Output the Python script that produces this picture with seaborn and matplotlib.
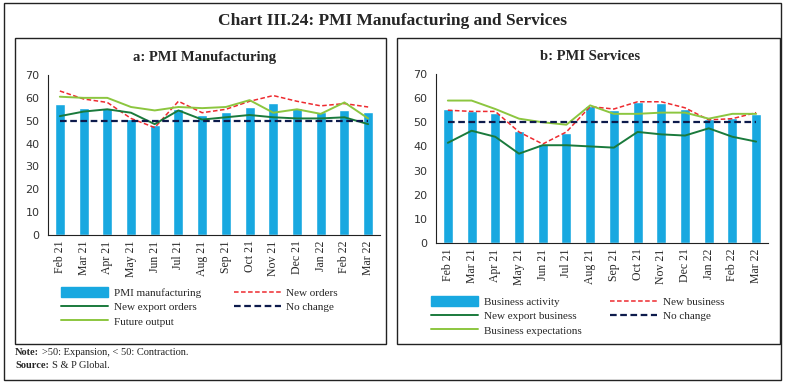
import numpy as np
import pandas as pd
import matplotlib
matplotlib.use("Agg")
import matplotlib.pyplot as plt
from matplotlib.patches import Rectangle
from matplotlib.lines import Line2D
import seaborn as sns

months = ["Feb 21", "Mar 21", "Apr 21", "May 21", "Jun 21", "Jul 21", "Aug 21",
          "Sep 21", "Oct 21", "Nov 21", "Dec 21", "Jan 22", "Feb 22", "Mar 22"]

# Panel a: PMI Manufacturing
pmi_manufacturing = [57.5, 55.4, 55.5, 50.8, 48.1, 55.3, 52.3, 53.7, 55.9, 57.6, 55.5, 54.0, 54.9, 54.0]
new_orders = [63.0, 59.5, 58.0, 51.0, 47.0, 58.5, 53.5, 55.0, 58.5, 61.0, 58.5, 56.5, 57.5, 56.0]
new_export_orders = [52.0, 54.0, 55.0, 53.5, 48.5, 54.5, 50.5, 51.5, 52.5, 51.5, 51.0, 51.0, 51.5, 48.5]
future_output = [60.5, 60.0, 60.0, 56.0, 54.5, 56.0, 55.5, 56.0, 59.0, 53.5, 55.0, 53.0, 58.0, 51.0]

# Panel b: PMI Services
business_activity = [55.3, 54.6, 54.0, 46.4, 41.2, 45.4, 56.7, 55.2, 58.4, 58.1, 55.5, 51.5, 51.8, 53.6]
new_business = [55.0, 54.5, 54.5, 46.0, 41.0, 46.0, 56.5, 55.5, 58.5, 58.5, 56.0, 51.0, 51.5, 54.0]
new_export_business = [41.5, 46.5, 44.0, 37.0, 40.5, 40.5, 40.0, 39.5, 46.0, 45.0, 44.5, 47.5, 44.0, 42.0]
business_expectations = [59.0, 59.0, 55.5, 51.5, 50.0, 49.0, 57.0, 53.5, 53.5, 54.0, 54.0, 51.5, 53.5, 53.5]

no_change = [50] * len(months)
y_ticks = [0, 10, 20, 30, 40, 50, 60, 70]

BAR = "#18A8E0"
RED = "#EE2A2F"
DGREEN = "#1A7A3C"
LGREEN = "#8CC63F"
NAVY = "#0D1B4C"

sns.set_style("white")
plt.rcParams["font.family"] = ["Liberation Serif", "DejaVu Serif"]

fig = plt.figure(figsize=(7.85, 3.86), dpi=100)
W, H = 785, 386


def box(x0, y0, x1, y1, lw=1.0):
    fig.patches.append(Rectangle((x0 / W, 1 - y1 / H), (x1 - x0) / W, (y1 - y0) / H,
                                 transform=fig.transFigure, fill=False,
                                 edgecolor="#222222", linewidth=lw))


box(4, 3, 781, 380)
box(15, 38, 386, 344)
box(397, 38, 780, 344)

fig.text(0.5, 1 - 21 / H, "Chart III.24: PMI Manufacturing and Services",
         ha="center", va="center", fontsize=12.5, fontweight="bold")
fig.text(205 / W, 1 - 57 / H, "a: PMI Manufacturing", ha="center", va="center",
         fontsize=10.5, fontweight="bold")
fig.text(590 / W, 1 - 57 / H, "b: PMI Services", ha="center", va="center",
         fontsize=10.5, fontweight="bold")

note_lbl = fig.text(15 / W, 1 - 355 / H, "Note:", ha="left", va="baseline",
                    fontsize=7.5, fontweight="bold")
src_lbl = fig.text(15 / W, 1 - 368 / H, "Source:", ha="left", va="baseline",
                   fontsize=7.5, fontweight="bold")
fig.canvas.draw()
r = fig.canvas.get_renderer()
note_bb = note_lbl.get_window_extent(r)
src_bb = src_lbl.get_window_extent(r)
fig.text((note_bb.x1 + 3) / W, 1 - 355 / H, ">50: Expansion, < 50: Contraction.",
         ha="left", va="baseline", fontsize=7.5, color="#222222")
fig.text((src_bb.x1 + 3) / W, 1 - 368 / H, "S & P Global.",
         ha="left", va="baseline", fontsize=7.5, color="#222222")


def panel(rect, bars, bar_label, lines, legend_order, anchor, colspace):
    ax = fig.add_axes(rect)
    df = pd.DataFrame({"month": months, "value": bars})
    sns.barplot(data=df, x="month", y="value", color=BAR, width=0.42,
                saturation=1, ax=ax, label=bar_label)
    idx = np.arange(len(months))
    handles = {bar_label: Rectangle((0, 0), 1, 1, color=BAR)}
    for name, vals, color, ls, lw in lines:
        sns.lineplot(x=idx, y=vals, color=color, linestyle=ls, linewidth=lw, ax=ax)
        handles[name] = Line2D([0], [0], color=color, linestyle=ls, linewidth=lw)
    ax.set_xlim(-0.47, len(months) - 0.5)
    ax.set_ylim(0, 70)
    ax.set_yticks(y_ticks)
    ax.set_xlabel("")
    ax.set_ylabel("")
    ax.set_xticks(idx)
    ax.set_xticklabels(months, rotation=90, fontsize=8.5)
    ax.set_xticks(np.arange(len(months) + 1) - 0.5, minor=True)
    ax.tick_params(axis="x", which="major", length=0, pad=4)
    ax.tick_params(axis="x", which="minor", length=4, width=0.8, color="#222222", direction="out")
    ax.tick_params(axis="y", length=3, width=0.8, color="#222222", direction="out",
                   labelsize=8.5, pad=3)
    for lab in ax.get_yticklabels():
        lab.set_fontfamily(["DejaVu Sans"])
        lab.set_color("#333333")
        lab.set_fontsize(8)
    sns.despine(ax=ax)
    for s in ["left", "bottom"]:
        ax.spines[s].set_color("#222222")
        ax.spines[s].set_linewidth(0.8)
    if ax.legend_ is not None:
        ax.legend_.remove()
    hs = [handles[n] for n in legend_order]
    ax.legend(hs, legend_order, ncol=2, loc="upper left", frameon=False,
              bbox_to_anchor=anchor, bbox_transform=fig.transFigure,
              fontsize=8, handlelength=4.2, handleheight=0.9, labelspacing=0.35,
              columnspacing=colspace, handletextpad=0.5, borderaxespad=0)
    return ax


panel([48 / W, 1 - 235 / H, 332 / W, 160 / H], pmi_manufacturing, "PMI manufacturing",
      [("New orders", new_orders, RED, (0, (3, 1.6)), 1.1),
       ("New export orders", new_export_orders, DGREEN, "-", 1.4),
       ("Future output", future_output, LGREEN, "-", 1.4),
       ("No change", no_change, NAVY, (0, (3, 1.6)), 1.6)],
      ["PMI manufacturing", "New export orders", "Future output", "New orders", "No change"],
      (57 / W, 1 - 283 / H), 3.0)

panel([436 / W, 1 - 243 / H, 332 / W, 169 / H], business_activity, "Business activity",
      [("New business", new_business, RED, (0, (3, 1.6)), 1.1),
       ("New export business", new_export_business, DGREEN, "-", 1.4),
       ("Business expectations", business_expectations, LGREEN, "-", 1.4),
       ("No change", no_change, NAVY, (0, (3, 1.6)), 1.6)],
      ["Business activity", "New export business", "Business expectations", "New business", "No change"],
      (427 / W, 1 - 292 / H), 2.6)

fig.savefig("out.png", dpi=100)
